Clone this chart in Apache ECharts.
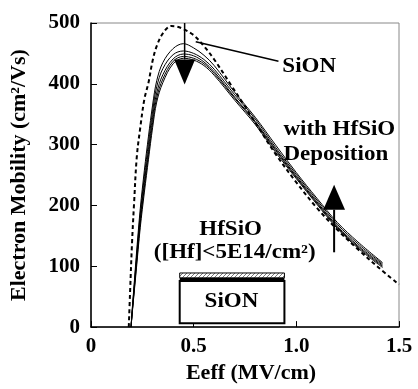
<!DOCTYPE html>
<html><head><meta charset="utf-8">
<script src="https://cdn.jsdelivr.net/npm/echarts@6/dist/echarts.min.js"></script>
<style>html,body{margin:0;padding:0;background:#fff}#c{width:418px;height:389px}</style>
</head><body><div id="c"></div>
<script>
// ---- data ----
const xSolid = [0.195,0.20,0.21,0.22,0.24,0.26,0.28,0.30,0.32,0.35,0.40,0.45,0.50,0.55,0.60,0.70,0.80,0.90,1.00,1.10,1.20,1.30,1.42];
const solid1 = [0,26,70,115,195,258,314,365,405,435,458,466,459,447,430,386,345,299,254,212,172,140,106];
const solid2 = [0,24,66,108,186,248,303,355,395,425,448,454,450,440,424,382,342,295,251,209,169,137,104];
const solid3 = [0,22,62,102,178,238,292,345,385,415,441,449,446,436,420,378,338,292,248,206,166,134,102];
const solid4 = [0,21,59,97,171,230,284,336,377,408,437,445,442,433,417,376,336,290,246,204,164,132,100];
const solid5 = [0,20,56,92,164,222,276,328,370,402,433,442,439,430,414,373,333,287,244,202,162,130,98];
const xDash = [0.184,0.19,0.20,0.21,0.223,0.24,0.26,0.28,0.30,0.32,0.35,0.39,0.42,0.45,0.50,0.55,0.60,0.68,0.74,0.81,0.90,1.00,1.10,1.20,1.30,1.40,1.50];
const sionVals = [0,55,140,205,280,328,375,402,438,462,483,495,494,490,480,462,440,399,368,331,284,238,196,160,128,98,70];
const xTickLabels = {0:'0',0.5:'0.5',1:'1.0',1.5:'1.5'};
const yTickLabels = [0,100,200,300,400,500];

// ---- annotation anchors (data coordinates) ----
const downArrow = {x:0.456, top:500, base:440, tip:399, half:0.051};
const upArrow = {x:1.184, bottom:123, base:193, tip:234, half:0.053};
const pointer = [[0.51,469],[0.913,437]];
const texts = [
  {t:'SiON', x:0.932, y:428, align:'left'},
  {t:'with HfSiO', x:0.937, y:325, align:'left'},
  {t:'Deposition', x:0.937, y:284, align:'left'},
  {t:'HfSiO', x:0.68, y:160, align:'center'},
  {t:'([Hf]<5E14/cm\u00b2)', x:0.70, y:122, align:'center'},
  {t:'SiON', x:0.684, y:42, align:'center'}
];
const box = {x0:0.432, x1:0.942, y0:6.5, y1:76, lineY:78.5, stripY0:81, stripY1:89};

const FONT = 'Liberation Serif, Times New Roman, serif';
const pair = (xs, ys) => xs.map((x,i)=>[x, ys[i]]);

const chart = echarts.init(document.getElementById('c'), null, {renderer:'canvas'});
const solidSeries = [solid1,solid2,solid3,solid4,solid5].map((s,i)=>({
  type:'line', name:'HfSiO'+i, data:pair(xSolid,s), showSymbol:false, smooth:0.35,
  lineStyle:{color:'#000', width:1}, z:3, silent:true
}));
chart.setOption({
  animation:false,
  backgroundColor:'#fff',
  grid:{left:90, top:23, right:19, bottom:58, show:true, borderColor:'#888', borderWidth:1},
  xAxis:{type:'value', min:0, max:1.5, interval:0.5,
    name:'Eeff (MV/cm)', nameLocation:'middle', nameGap:31,
    nameTextStyle:{fontFamily:FONT, fontWeight:'bold', fontSize:22, color:'#000', padding:[0,0,0,12]},
    axisLine:{show:true, lineStyle:{color:'#000', width:1.5}},
    axisTick:{show:true, inside:true, length:6, lineStyle:{color:'#000', width:1}},
    axisLabel:{margin:9, fontFamily:FONT, fontWeight:'bold', fontSize:21, color:'#000',
      formatter:v=>xTickLabels[v]},
    splitLine:{show:false}},
  yAxis:{type:'value', min:0, max:500, interval:100,
    name:'Electron Mobility (cm\u00b2/Vs)', nameLocation:'middle', nameGap:61,
    nameTextStyle:{fontFamily:FONT, fontWeight:'bold', fontSize:22, color:'#000'},
    axisLine:{show:true, lineStyle:{color:'#000', width:1.5}},
    axisTick:{show:true, inside:true, length:6, lineStyle:{color:'#000', width:1}},
    axisLabel:{margin:11, fontFamily:FONT, fontWeight:'bold', fontSize:21, color:'#000',
      formatter:v=> yTickLabels.includes(v) ? String(v) : ''},
    splitLine:{show:false}},
  series: solidSeries.concat([{
    type:'line', name:'SiON', data:pair(xDash,sionVals), showSymbol:false, smooth:0.35,
    lineStyle:{color:'#000', width:2, type:[4,3]}, z:4, silent:true
  }])
});

const P = (x,y) => chart.convertToPixel({gridIndex:0},[x,y]);
// hatch pattern
const hc = document.createElement('canvas'); hc.width=4; hc.height=4;
const hx = hc.getContext('2d'); hx.fillStyle='#fff'; hx.fillRect(0,0,4,4);
hx.strokeStyle='#777'; hx.lineWidth=1; hx.beginPath(); hx.moveTo(0,4); hx.lineTo(4,0); hx.stroke();

const g = [];
{ const a=downArrow; const t=P(a.x,a.top), b=P(a.x,a.base), tp=P(a.x,a.tip), l=P(a.x-a.half,a.base), r=P(a.x+a.half,a.base);
  g.push({type:'line', shape:{x1:t[0],y1:t[1],x2:b[0],y2:b[1]}, style:{stroke:'#000', lineWidth:1.5}, z:10});
  g.push({type:'polygon', shape:{points:[l,r,tp]}, style:{fill:'#000'}, z:10}); }
{ const a=upArrow; const bt=P(a.x,a.bottom), b=P(a.x,a.base), tp=P(a.x,a.tip), l=P(a.x-a.half,a.base), r=P(a.x+a.half,a.base);
  g.push({type:'line', shape:{x1:bt[0],y1:bt[1],x2:b[0],y2:b[1]}, style:{stroke:'#000', lineWidth:2}, z:10});
  g.push({type:'polygon', shape:{points:[l,r,tp]}, style:{fill:'#000'}, z:10}); }
{ const a=P(...pointer[0]), b=P(...pointer[1]);
  g.push({type:'line', shape:{x1:a[0],y1:a[1],x2:b[0],y2:b[1]}, style:{stroke:'#000', lineWidth:1.5}, z:10}); }
{ const tl=P(box.x0,box.y1), br=P(box.x1,box.y0);
  g.push({type:'rect', shape:{x:tl[0],y:tl[1],width:br[0]-tl[0],height:br[1]-tl[1]}, style:{fill:'#fff', stroke:'#000', lineWidth:2}, z:9});
  const ly=P(box.x0,box.lineY)[1];
  g.push({type:'line', shape:{x1:tl[0],y1:ly,x2:br[0],y2:ly}, style:{stroke:'#000', lineWidth:3}, z:9});
  const s0=P(box.x0,box.stripY1), s1=P(box.x1,box.stripY0);
  g.push({type:'rect', shape:{x:s0[0],y:s0[1],width:s1[0]-s0[0],height:s1[1]-s0[1]}, style:{fill:{image:hc, repeat:'repeat'}, stroke:'#000', lineWidth:1}, z:9}); }
texts.forEach(o=>{ const p=P(o.x,o.y);
  g.push({type:'text', x:p[0], y:p[1], scaleX:1.15, z:11, style:{text:o.t, fontFamily:FONT, fontWeight:'bold', fontSize:20, fill:'#000', align:o.align, verticalAlign:'middle'}}); });
chart.setOption({graphic:g});
</script></body></html>
